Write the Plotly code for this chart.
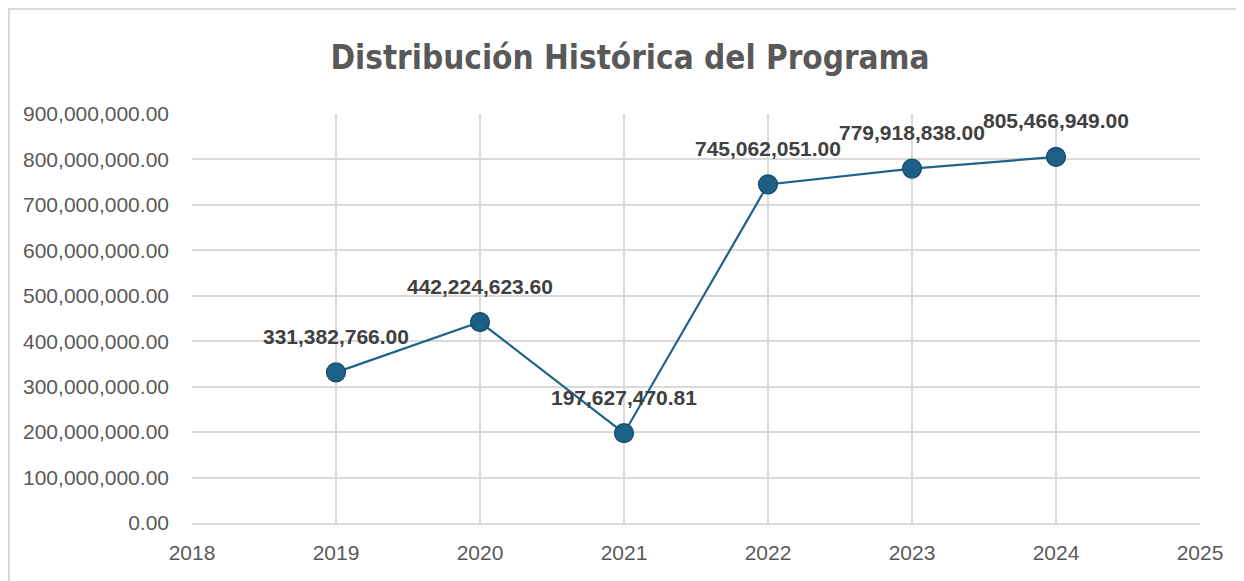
import plotly.graph_objects as go

years = [2019, 2020, 2021, 2022, 2023, 2024]
values = [331382766.00, 442224623.60, 197627470.81, 745062051.00, 779918838.00, 805466949.00]
title_text = "Distribución Histórica del Programa"

# the page body adds an 8px offset; figure coordinates are screen minus 8
OFF = 8
W, H = 1244, 581
L, R, T, B = 192 - OFF, 1244 - (1200 - OFF), 114 - OFF, 581 - (523 - OFF)

line_color = "#1E6389"
grid_color = "#D9D9D9"
text_gray = "#595959"

fig = go.Figure()
fig.add_trace(go.Scatter(
    x=years, y=values, mode="lines+markers",
    line=dict(color=line_color, width=2.2),
    marker=dict(size=19, color="#1D5F85", line=dict(color="#15496A", width=1.2)),
    hoverinfo="skip", showlegend=False,
))

for x, v in zip(years, values):
    fig.add_annotation(
        x=x, y=v, text=f"{v:,.2f}", showarrow=False, yshift=36,
        font=dict(family="Liberation Sans, Arial, sans-serif", size=21, color="#404040", weight="bold"),
    )

pw = W - L - R
ph = H - T - B
def px_to_paper_x(px):
    return (px - L) / pw
def px_to_paper_y(py):
    return (H - B - py) / ph

fig.add_shape(type="rect", xref="paper", yref="paper",
              x0=px_to_paper_x(1), x1=px_to_paper_x(1300),
              y0=px_to_paper_y(700), y1=px_to_paper_y(1),
              line=dict(color=grid_color, width=2), fillcolor="rgba(0,0,0,0)", layer="below")

fig.update_layout(
    width=W, height=H,
    margin=dict(l=L, r=R, t=T, b=B, autoexpand=False),
    paper_bgcolor="white", plot_bgcolor="white",
    title=dict(text=title_text, xref="container", yref="container",
               x=(630 - OFF) / W, y=1 - (57 - OFF) / H, xanchor="center", yanchor="middle",
               font=dict(family="Liberation Sans Narrow, DejaVu Sans Condensed, sans-serif",
                         size=33, color=text_gray, weight="bold")),
    font=dict(family="Liberation Sans, Arial, sans-serif", size=21, color=text_gray),
)
fig.update_xaxes(range=[2018, 2025], dtick=1, tick0=2018, showgrid=True, gridcolor=grid_color,
                 gridwidth=2, showline=True, linecolor=grid_color, linewidth=2, zeroline=False,
                 ticks="", ticklabelstandoff=10, fixedrange=True,
                 tickfont=dict(size=21, color=text_gray))
fig.update_yaxes(range=[0, 900000000], dtick=100000000, tickformat=",.2f", showgrid=True,
                 gridcolor=grid_color, gridwidth=2, showline=False, zeroline=False,
                 ticks="", ticklabelstandoff=22, fixedrange=True,
                 tickfont=dict(size=21, color=text_gray))

fig.write_html("out.html")
